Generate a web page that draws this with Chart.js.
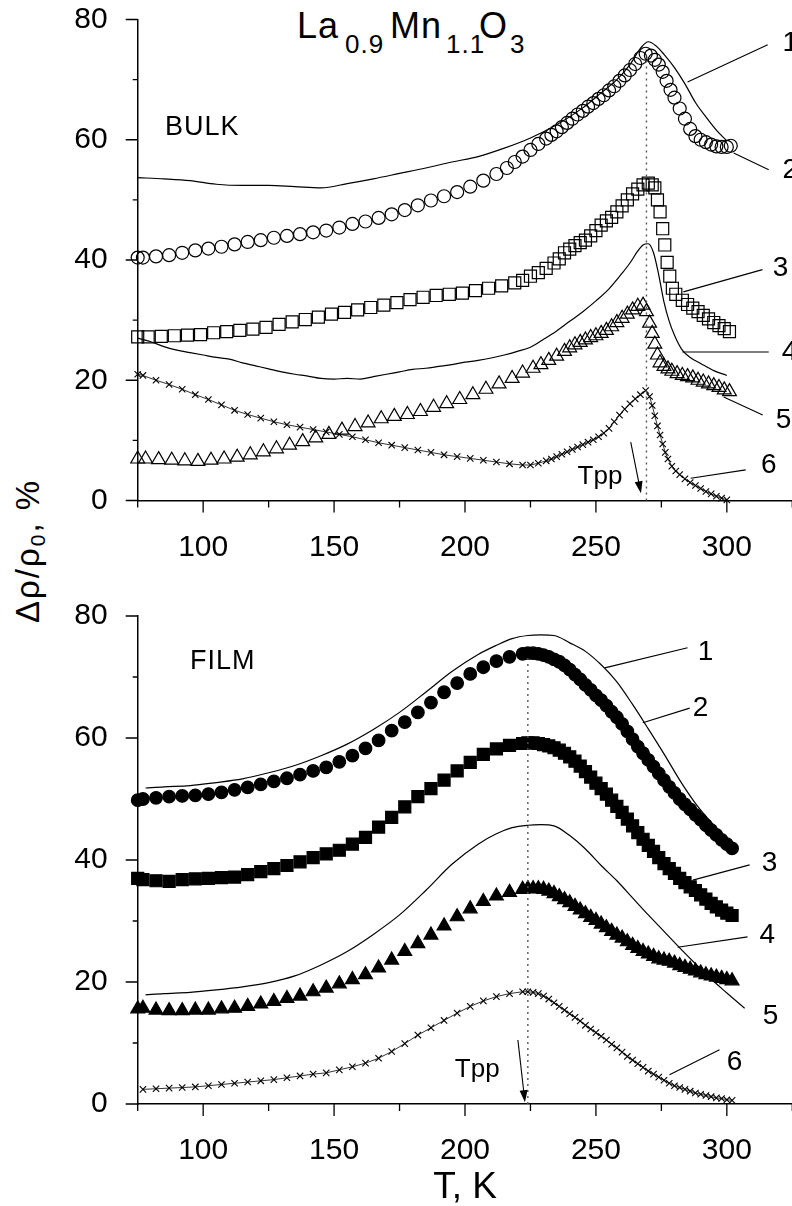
<!DOCTYPE html>
<html>
<head>
<meta charset="utf-8">
<script src="https://cdn.jsdelivr.net/npm/chart.js@4.4.1/dist/chart.umd.min.js"></script>
<style>
  html, body { margin: 0; padding: 0; background: #fff; }
  body { width: 792px; height: 1206px; position: relative; overflow: hidden;
         font-family: "Liberation Sans", Arial, Helvetica, sans-serif; color: #000; }
  canvas { position: absolute; left: 0; }
  #bulkChart { top: 0; }
  #filmChart { top: 580px; }
  .tt { position: absolute; white-space: nowrap; line-height: 1; letter-spacing: 1px; }
  #ytitle { position: absolute; left: 29px; top: 551px; transform: translate(-50%, -50%) rotate(-90deg);
            font-size: 33px; letter-spacing: 2px; white-space: nowrap; line-height: 1; }
  #ytitle sub { font-size: 21px; vertical-align: -6px; line-height: 1; }
</style>
</head>
<body>
<!-- заглавие: La0.9Mn1.1O3 -->
<span class="tt" style="left:297px; top:8px; font-size:36px;">La</span>
<span class="tt" style="left:345px; top:31px; font-size:26px;">0.9</span>
<span class="tt" style="left:390px; top:8px; font-size:36px;">Mn</span>
<span class="tt" style="left:446px; top:31px; font-size:26px;">1.1</span>
<span class="tt" style="left:479px; top:8px; font-size:36px;">O</span>
<span class="tt" style="left:510px; top:31px; font-size:26px;">3</span>
<div id="ytitle">Δρ/ρ<sub>0</sub>, %</div>

<canvas id="bulkChart" width="792" height="580"></canvas>
<canvas id="filmChart" width="792" height="626"></canvas>

<script>
// Данни, отчетени от графиката (T в K, Δρ/ρ0 в %)
const tMajorTicks = [100, 150, 200, 250, 300];
const yMajorTicks = [0, 20, 40, 60, 80];

// BULK, крива 1 (линия)
const bulk1T = [75, 85, 95, 105, 115, 125, 135, 145, 155, 165, 175, 185, 195, 205, 215, 225, 235, 245, 252, 258, 263, 267, 270, 273, 276, 280, 284, 288, 292, 296, 300];
const bulk1V = [53.7, 53.5, 53.2, 52.6, 52.4, 52.4, 52.2, 52.0, 52.7, 53.5, 54.4, 55.3, 56.3, 57.2, 58.6, 60.3, 62.5, 65.3, 67.8, 70.0, 72.5, 75.2, 76.3, 75.6, 74.2, 72.0, 69.3, 66.2, 63.8, 61.6, 59.8];

// BULK, крива 2 (празни кръгове)
const bulk2T = [75, 77, 82, 87, 92, 97, 102, 107, 112, 117, 122, 127, 132, 137, 142, 147, 152, 157, 162, 167, 172, 177, 182, 187, 192, 197, 202, 207, 212,
  216, 219, 222, 225, 228, 231,
  233, 235, 237, 239, 241, 243, 245, 247, 249, 251, 253, 255, 257, 259, 261, 263, 265, 267, 269,
  271, 272.5, 274, 275.5, 277, 278.5, 280,
  282, 284, 286, 288, 290, 292, 294, 296, 298, 300, 301.5];
const bulk2V = [40.4, 40.4, 40.6, 40.8, 41.2, 41.6, 41.9, 42.2, 42.6, 43.0, 43.3, 43.7, 44.0, 44.3, 44.6, 44.9, 45.4, 46.0, 46.4, 47.0, 47.6, 48.3, 49.1, 49.9, 50.6, 51.3, 52.2, 53.2, 54.3,
  55.3, 56.3, 57.2, 58.3, 59.3, 60.2,
  60.8, 61.4, 62.1, 62.8, 63.5, 64.2, 64.8, 65.5, 66.1, 66.8, 67.4, 68.2, 68.9, 69.8, 70.7, 71.6, 72.6, 73.6, 74.3,
  74.0, 73.3, 72.5, 71.3, 69.8, 68.3, 67.0,
  65.2, 63.5, 61.8, 60.6, 60.0, 59.6, 59.2, 58.9, 58.8, 58.8, 59.0];

// BULK, крива 3 (празни квадрати)
const bulk3T = [75, 79, 84, 89, 94, 99, 104, 109, 114, 119, 124, 129, 134, 139, 144, 149, 154, 159, 164, 169, 174, 179, 184, 189, 194, 199, 204, 209, 214, 219,
  222, 225, 228, 231, 234,
  236, 238, 240, 242, 244, 246, 248, 250, 252, 254, 256, 258, 260, 262, 264, 266, 268, 270,
  271.5, 272.5, 273.5, 274.5, 275.5, 276.3, 277.2, 278.2, 279.2, 280.5,
  283, 285, 287, 289, 291, 293, 295, 297, 299, 301];
const bulk3V = [27.2, 27.2, 27.3, 27.4, 27.5, 27.6, 27.9, 28.1, 28.3, 28.5, 28.8, 29.3, 29.7, 30.1, 30.5, 31.0, 31.3, 31.7, 32.1, 32.5, 32.9, 33.4, 33.8, 34.1, 34.3, 34.5, 34.9, 35.3, 35.7, 36.2,
  36.6, 37.3, 37.9, 38.6, 39.5,
  40.2, 41.2, 41.8, 42.4, 42.9, 43.3, 44.0, 44.9, 45.8, 46.5, 47.1, 48.0, 49.0, 50.0, 51.0, 51.8, 52.5, 52.8,
  52.5, 52.0, 50.0, 48.0, 45.2, 42.5, 39.6, 37.3, 35.3, 34.3,
  33.3, 32.6, 32.0, 31.4, 30.8, 30.2, 29.6, 29.1, 28.6, 28.1];

// BULK, крива 4 (линия)
const bulk4T = [75, 80, 85, 90, 95, 100, 105, 110, 115, 120, 125, 130, 135, 140, 145, 150, 155, 160, 165, 170, 175, 180, 185, 190, 195, 200, 205, 210, 215, 220, 225, 230, 235, 240, 245, 250, 255, 260,
  263, 266, 268, 270, 272, 274, 276, 278, 280, 283, 286, 290, 295, 300];
const bulk4V = [27.0, 26.4, 25.6, 25.0, 24.6, 24.2, 23.8, 23.5, 22.9, 22.4, 21.9, 21.4, 21.0, 20.7, 20.3, 20.2, 20.3, 20.2, 20.6, 21.0, 21.4, 21.8, 22.0, 22.3, 22.6, 23.0, 23.3, 23.7, 24.2, 24.8, 25.5, 26.8, 28.2, 29.8, 31.4, 33.2, 35.2, 37.8,
  39.5, 41.5, 42.5, 42.7, 41.2, 37.5, 33.0, 29.8, 27.5, 25.0, 23.8, 22.8, 21.6, 20.8];

// BULK, крива 5 (празни триъгълници)
const bulk5T = [75, 78, 83, 88, 93, 98, 103, 108, 113, 118, 123, 128, 133, 138, 143, 148, 153, 158, 163, 168, 173, 178, 183, 188, 193, 198, 203, 208, 213, 218,
  222, 226, 229, 232, 235, 238,
  240, 242, 244, 246, 248, 250, 252, 254, 256, 258, 260, 262, 264, 266, 268,
  269.3, 270.5, 271.5, 272.5, 273.5, 274.5, 276, 277.5, 279,
  281, 283, 285, 287, 289, 291, 293, 295, 297, 299, 301];
const bulk5V = [6.9, 6.9, 6.8, 6.7, 6.6, 6.5, 6.7, 6.9, 7.2, 7.6, 8.1, 8.6, 9.2, 9.8, 10.4, 11.0, 11.7, 12.3, 12.9, 13.6, 14.0, 14.3, 14.8, 15.5, 16.1, 16.8, 17.6, 18.5, 19.4, 20.3,
  21.2, 22.0, 22.6, 23.3, 24.0, 24.8,
  25.4, 25.9, 26.3, 26.7, 27.1, 27.4, 27.8, 28.3, 28.9, 29.6, 30.3, 31.0, 31.7, 32.3, 32.5,
  31.4, 29.5, 27.8, 26.0, 24.2, 22.9, 22.3, 21.9, 21.5,
  21.1, 20.8, 20.6, 20.4, 20.0, 19.7, 19.4, 19.1, 18.8, 18.4, 18.1];

// BULK, крива 6 (кръстчета)
const bulk6T = [75, 77, 82, 87, 92, 97, 102, 107, 112, 117, 122, 127, 132, 137, 142, 147, 152, 157, 162, 167, 172, 177, 182, 187, 192, 197, 202, 207, 212, 217, 222,
  225, 228, 231,
  233, 235, 237, 239, 241, 243, 245, 247, 249, 251, 253, 255, 257, 259, 261, 263, 265, 267, 269,
  270.5, 271.5, 272.5, 273.5, 274.5, 275.5, 276.5, 277.5,
  279, 280.5, 282,
  284, 286, 288, 290, 292, 294, 296, 298, 300];
const bulk6V = [21.0, 20.8, 20.0, 19.3, 18.5, 17.6, 16.8, 15.9, 15.0, 14.3, 13.7, 13.1, 12.6, 12.2, 11.8, 11.4, 11.0, 10.6, 10.1, 9.6, 9.2, 8.8, 8.4, 8.0, 7.6, 7.3, 7.0, 6.7, 6.4, 6.1, 5.9,
  5.9, 6.2, 6.6,
  6.9, 7.3, 7.7, 8.1, 8.5, 8.9, 9.3, 9.7, 10.1, 10.6, 11.2, 12.0, 13.1, 14.2, 15.2, 16.1, 16.9, 17.6, 18.3,
  17.3, 15.8, 14.1, 12.4, 10.9, 9.4, 8.0, 6.9,
  5.7, 4.9, 4.3,
  3.6, 3.0, 2.5, 2.0, 1.5, 1.1, 0.7, 0.4, 0.1];

// FILM, обща T-мрежа за кривите с маркери 2, 3, 5
const filmMarkT = [75, 77, 82, 87, 92, 97, 102, 107, 112, 117, 122, 127, 132, 137, 142, 147, 152, 157, 162, 167, 172, 177, 182, 187, 192, 197, 202, 207, 212, 217, 222, 224,
  226, 228, 230, 232, 234, 236, 238, 240, 242, 244, 246, 248, 250, 252, 254, 256, 258, 260, 262, 264, 266, 268, 270, 272, 274, 276, 278, 280, 282, 284, 286, 288, 290, 292, 294, 296, 298, 300, 302];

// FILM, крива 1 (линия)
const film1T = [78, 85, 95, 105, 115, 125, 135, 145, 155, 165, 175, 185, 195, 205, 212, 218, 224, 229, 234, 240, 246, 252, 258, 264, 270, 276, 282, 288, 294, 300, 302];
const film1V = [51.8, 52.0, 52.2, 52.7, 53.3, 54.3, 55.5, 57.1, 59.0, 61.4, 64.2, 67.5, 70.9, 73.7, 75.2, 76.3, 76.8, 76.9, 76.8, 75.6, 74.2, 72.0, 69.2, 65.5, 61.5, 57.4, 53.1, 49.3, 46.2, 43.5, 42.8];

// FILM, крива 2 (плътни кръгове)
const film2V = [49.8, 50.0, 50.2, 50.4, 50.5, 50.6, 50.8, 51.1, 51.5, 51.9, 52.4, 52.9, 53.4, 54.0, 54.6, 55.2, 56.1, 57.1, 58.3, 59.6, 61.2, 62.6, 64.2, 65.8, 67.5, 69.0, 70.5, 71.6, 72.6, 73.3, 73.8, 73.9,
  73.9, 73.8, 73.6, 73.3, 72.9, 72.5, 71.9, 71.2, 70.4, 69.6, 68.7, 67.9, 67.0, 66.2, 65.3, 64.3, 63.4, 62.3, 61.1, 59.8, 58.6, 57.5, 56.4, 55.3, 54.2, 53.1, 52.0, 51.0, 50.0, 49.1, 48.3, 47.4, 46.6, 45.7, 44.9, 44.1, 43.3, 42.6, 41.9];

// FILM, крива 3 (плътни квадрати)
const film3V = [37.0, 36.8, 36.6, 36.5, 36.8, 36.9, 37.0, 37.1, 37.2, 37.6, 38.1, 38.6, 39.1, 39.7, 40.4, 41.0, 41.6, 42.6, 43.7, 45.4, 47.0, 48.7, 50.4, 51.7, 53.1, 54.6, 56.0, 57.3, 58.2, 58.8, 59.1, 59.2,
  59.2, 59.1, 58.9, 58.7, 58.4, 58.0, 57.5, 56.9, 56.2, 55.4, 54.5, 53.6, 52.6, 51.7, 50.8, 49.8, 48.8, 47.8, 46.7, 45.6, 44.5, 43.4, 42.4, 41.4, 40.4, 39.4, 38.6, 37.8, 37.0, 36.3, 35.6, 35.0, 34.3, 33.6, 32.9, 32.3, 31.8, 31.3, 30.9];

// FILM, крива 4 (линия)
const film4T = [78, 85, 95, 105, 115, 125, 135, 145, 155, 165, 175, 185, 195, 205, 212, 218, 224, 229, 234, 240, 246, 252, 258, 264, 270, 276, 282, 288, 294, 300];
const film4V = [17.9, 18.1, 18.3, 18.7, 19.2, 19.9, 21.0, 22.8, 25.0, 27.8, 31.0, 35.0, 39.3, 42.6, 44.3, 45.3, 45.7, 45.8, 45.6, 44.0, 41.8, 39.1, 36.6, 33.8, 31.0, 28.3, 25.6, 23.0, 20.5, 18.2];

// FILM, крива 5 (плътни триъгълници)
const film5V = [15.6, 15.7, 15.4, 15.3, 15.3, 15.4, 15.4, 15.6, 15.7, 16.0, 16.4, 16.8, 17.3, 17.7, 18.4, 19.0, 19.7, 20.4, 21.2, 22.3, 23.6, 25.0, 26.3, 27.7, 29.2, 30.7, 32.0, 33.2, 34.1, 34.7, 35.2, 35.3,
  35.3, 35.3, 35.2, 34.9, 34.5, 34.0, 33.5, 33.0, 32.4, 31.8, 31.2, 30.6, 30.1, 29.5, 28.9, 28.3, 27.7, 27.2, 26.6, 26.0, 25.5, 25.0, 24.6, 24.2, 23.8, 23.6, 23.4, 23.1, 22.7, 22.4, 22.1, 21.8, 21.5, 21.2, 21.0, 20.8, 20.6, 20.4, 20.2];

// FILM, крива 6 (кръстчета)
const film6T = [77, 82, 87, 92, 97, 102, 107, 112, 117, 122, 127, 132, 137, 142, 147, 152, 157, 162, 167, 172, 177, 182, 187, 192, 197, 202, 207, 212, 217, 222, 224,
  226, 228, 230, 232, 234, 236, 238, 240, 242, 244, 246, 248, 250, 252, 254, 256, 258, 260, 262, 264, 266, 268, 270, 272, 274, 276, 278, 280, 282, 284, 286, 288, 290, 292, 294, 296, 298, 300, 302];
const film6V = [2.4, 2.5, 2.6, 2.7, 2.8, 3.0, 3.2, 3.4, 3.6, 3.8, 4.0, 4.3, 4.6, 4.9, 5.1, 5.6, 6.1, 6.7, 7.5, 8.6, 9.9, 11.3, 12.5, 13.7, 14.9, 16.0, 16.9, 17.6, 18.1, 18.4, 18.4,
  18.3, 18.1, 17.7, 17.2, 16.6, 16.0, 15.4, 14.8, 14.2, 13.6, 12.9, 12.3, 11.7, 11.1, 10.5, 9.8, 9.2, 8.5, 7.8, 7.2, 6.6, 6.0, 5.4, 4.9, 4.4, 3.9, 3.4, 3.0, 2.7, 2.4, 2.1, 1.8, 1.6, 1.4, 1.2, 1.0, 0.9, 0.7, 0.6];

// Надписи и водещи линии (в координати T, %)
const bulkNotes = {
    panel: ['BULK', 85.4, 62.1],
    tpp: [269.3, 74],
    tppText: [243, 3.9],
    arrow: [[263.3, 9.7], [267.2, 1.2]],
    leaders: [
        [[285.0, 69.6], [315.6, 75.8]],
        [[302.6, 57.8], [316.0, 55.0]],
        [[283.4, 34.7], [313.6, 38.4]],
        [[283.0, 24.7], [316.0, 24.7]],
        [[298.8, 17.2], [313.7, 14.2]],
        [[286.2, 3.7], [307.2, 5.1]]
    ],
    nums: [['1', 321.3, 76.1], ['2', 321.3, 55.0], ['3', 317.5, 38.7], ['4', 321.0, 24.7], ['5', 318.7, 13.4], ['6', 313.0, 5.9]]
};
const filmNotes = {
    panel: ['FILM', 95, 72.5],
    tpp: [224, 73.6],
    tppText: [196.1, 5.6],
    arrow: [[220.2, 10.5], [222.9, 0.3]],
    leaders: [
        [[253.4, 71.5], [285.0, 74.8]],
        [[267.9, 62.5], [285.8, 64.9]],
        [[287.0, 36.7], [308.7, 39.2]],
        [[281.2, 25.7], [307.9, 27.4]],
        [[300.0, 18.2], [306.8, 15.7]],
        [[278.1, 4.8], [297.2, 8.9]]
    ],
    nums: [['1', 288.9, 74.1], ['2', 287.0, 64.9], ['3', 313.3, 39.5], ['4', 312.5, 27.7], ['5', 313.7, 14.3], ['6', 300.0, 6.9]]
};

const FONT = '"Liberation Sans", Arial, Helvetica, sans-serif';
Chart.defaults.font.family = FONT;
Chart.defaults.color = '#000';

function pts(t, v) {
    return t.map((x, i) => ({ x: x, y: v[i] }));
}

// Стилове на сериите
function lineSet(t, v) {
    return { data: pts(t, v), showLine: true, borderColor: '#000', borderWidth: 1.2,
             pointRadius: 0, cubicInterpolationMode: 'monotone', clip: false };
}
function markSet(t, v, style, radius, filled) {
    return { data: pts(t, v), showLine: false, pointStyle: style, pointRadius: radius,
             pointBorderColor: '#000', pointBorderWidth: 1.2,
             pointBackgroundColor: filled ? '#000' : 'rgba(0,0,0,0)', clip: false };
}
function crossSet(t, v) {
    return { data: pts(t, v), showLine: true, borderColor: '#000', borderWidth: 0.8,
             pointStyle: 'crossRot', pointRadius: 4.5, pointBorderColor: '#000',
             pointBorderWidth: 1.1, clip: false };
}

// Деления на осите и анотации
function makeNotes(notes) {
    return {
        id: 'notes',
        afterDraw(chart) {
            const ctx = chart.ctx;
            const xs = chart.scales.x, ys = chart.scales.y;
            const px = t => xs.getPixelForValue(t);
            const py = v => ys.getPixelForValue(v);
            const area = chart.chartArea;
            ctx.save();

            // деления (големи и малки)
            ctx.strokeStyle = '#000';
            ctx.lineWidth = 1.3;
            ctx.beginPath();
            xs.ticks.forEach(tk => {
                const x = px(tk.value);
                ctx.moveTo(x, area.bottom);
                ctx.lineTo(x, area.bottom + (tMajorTicks.includes(tk.value) ? 12 : 7));
            });
            ys.ticks.forEach(tk => {
                const y = py(tk.value);
                ctx.moveTo(area.left - (yMajorTicks.includes(tk.value) ? 12 : 5), y);
                ctx.lineTo(area.left, y);
            });
            ctx.stroke();

            // пунктир при Tpp
            ctx.save();
            ctx.strokeStyle = '#555';
            ctx.lineWidth = 1.4;
            ctx.setLineDash([2, 4]);
            ctx.beginPath();
            ctx.moveTo(px(notes.tpp[0]), py(0));
            ctx.lineTo(px(notes.tpp[0]), py(notes.tpp[1]));
            ctx.stroke();
            ctx.restore();

            // водещи линии
            ctx.lineWidth = 1.1;
            ctx.beginPath();
            notes.leaders.forEach(l => {
                ctx.moveTo(px(l[0][0]), py(l[0][1]));
                ctx.lineTo(px(l[1][0]), py(l[1][1]));
            });
            ctx.stroke();

            // стрелка
            const a0 = [px(notes.arrow[0][0]), py(notes.arrow[0][1])];
            const a1 = [px(notes.arrow[1][0]), py(notes.arrow[1][1])];
            const ang = Math.atan2(a1[1] - a0[1], a1[0] - a0[0]);
            ctx.beginPath();
            ctx.moveTo(a0[0], a0[1]);
            ctx.lineTo(a1[0] - 9 * Math.cos(ang), a1[1] - 9 * Math.sin(ang));
            ctx.stroke();
            ctx.fillStyle = '#000';
            ctx.beginPath();
            ctx.moveTo(a1[0], a1[1]);
            ctx.lineTo(a1[0] - 12 * Math.cos(ang) + 4 * Math.sin(ang), a1[1] - 12 * Math.sin(ang) - 4 * Math.cos(ang));
            ctx.lineTo(a1[0] - 12 * Math.cos(ang) - 4 * Math.sin(ang), a1[1] - 12 * Math.sin(ang) + 4 * Math.cos(ang));
            ctx.closePath();
            ctx.fill();

            // текстове
            ctx.textBaseline = 'middle';
            ctx.textAlign = 'left';
            ctx.font = '28px ' + FONT;
            notes.nums.forEach(n => ctx.fillText(n[0], px(n[1]), py(n[2])));
            ctx.font = '26px ' + FONT;
            ctx.fillText('Tpp', px(notes.tppText[0]), py(notes.tppText[1]));
            if ('letterSpacing' in ctx) ctx.letterSpacing = '1px';
            ctx.font = '27px ' + FONT;
            ctx.fillText(notes.panel[0], px(notes.panel[1]), py(notes.panel[2]));
            ctx.restore();
        }
    };
}

// ticks.padding е 0, защото Chart.js го добавя и към полетата на графиката;
// отстоянието на надписите идва от невидимата дължина на делението
function makeOptions(padTop, axisHeight, withTitle) {
    return {
        responsive: false,
        animation: false,
        layout: { padding: { top: padTop, left: 0, right: 0, bottom: 0 } },
        plugins: { legend: { display: false }, tooltip: { enabled: false } },
        scales: {
            x: {
                type: 'linear', min: 75, max: 325,
                ticks: { stepSize: 25, autoSkip: false, maxRotation: 0, padding: 0, color: '#000',
                         font: { size: 30 },
                         callback: v => tMajorTicks.includes(v) ? String(v) : '' },
                grid: { drawOnChartArea: false, drawTicks: true, tickLength: 29, tickColor: 'rgba(0,0,0,0)' },
                border: { display: true, color: '#000', width: 1.5 },
                title: withTitle
                    ? { display: true, text: 'T, K', color: '#000', font: { size: 37, lineHeight: 1 }, padding: { top: 0, bottom: 0 } }
                    : { display: false },
                afterFit: s => { s.height = axisHeight; }
            },
            y: {
                type: 'linear', min: 0, max: 80,
                ticks: { stepSize: 10, padding: 0, color: '#000', font: { size: 30 },
                         callback: v => yMajorTicks.includes(v) ? String(v) : '' },
                grid: { drawOnChartArea: false, drawTicks: true, tickLength: 30, tickColor: 'rgba(0,0,0,0)' },
                border: { display: true, color: '#000', width: 1.5 },
                afterFit: s => { s.width = 137.7; }
            }
        }
    };
}

// Графиката се строи отново с по-широко платно, ако Chart.js остави празно поле вдясно
// (десният край на оста трябва да е на ръба на страницата, 792 px)
function buildChart(id, height, makeConfig) {
    const canvas = document.getElementById(id);
    let chart = new Chart(canvas, makeConfig());
    const extra = 792 - chart.chartArea.right;
    if (Math.abs(extra) > 0.5) {
        chart.destroy();
        const w = Math.round(792 + extra);
        canvas.width = w;
        canvas.height = height;
        canvas.style.width = w + 'px';
        canvas.style.height = height + 'px';
        chart = new Chart(canvas, makeConfig());
    }
    return chart;
}

buildChart('bulkChart', 580, () => ({
    type: 'scatter',
    data: {
        datasets: [
            lineSet(bulk1T, bulk1V),
            markSet(bulk2T, bulk2V, 'circle', 6.5, false),
            markSet(bulk3T, bulk3V, 'rect', 8.5, false),
            lineSet(bulk4T, bulk4V),
            markSet(bulk5T, bulk5V, 'triangle', 8, false),
            crossSet(bulk6T, bulk6V)
        ]
    },
    options: makeOptions(19.5, 79.5, false),
    plugins: [makeNotes(bulkNotes)]
}));

buildChart('filmChart', 626, () => ({
    type: 'scatter',
    data: {
        datasets: [
            lineSet(film1T, film1V),
            markSet(filmMarkT, film2V, 'circle', 6.3, true),
            markSet(filmMarkT, film3V, 'rect', 8.5, true),
            lineSet(film4T, film4V),
            markSet(filmMarkT, film5V, 'triangle', 8, true),
            crossSet(film6T, film6V)
        ]
    },
    options: makeOptions(36, 102, true),
    plugins: [makeNotes(filmNotes)]
}));
</script>
</body>
</html>
